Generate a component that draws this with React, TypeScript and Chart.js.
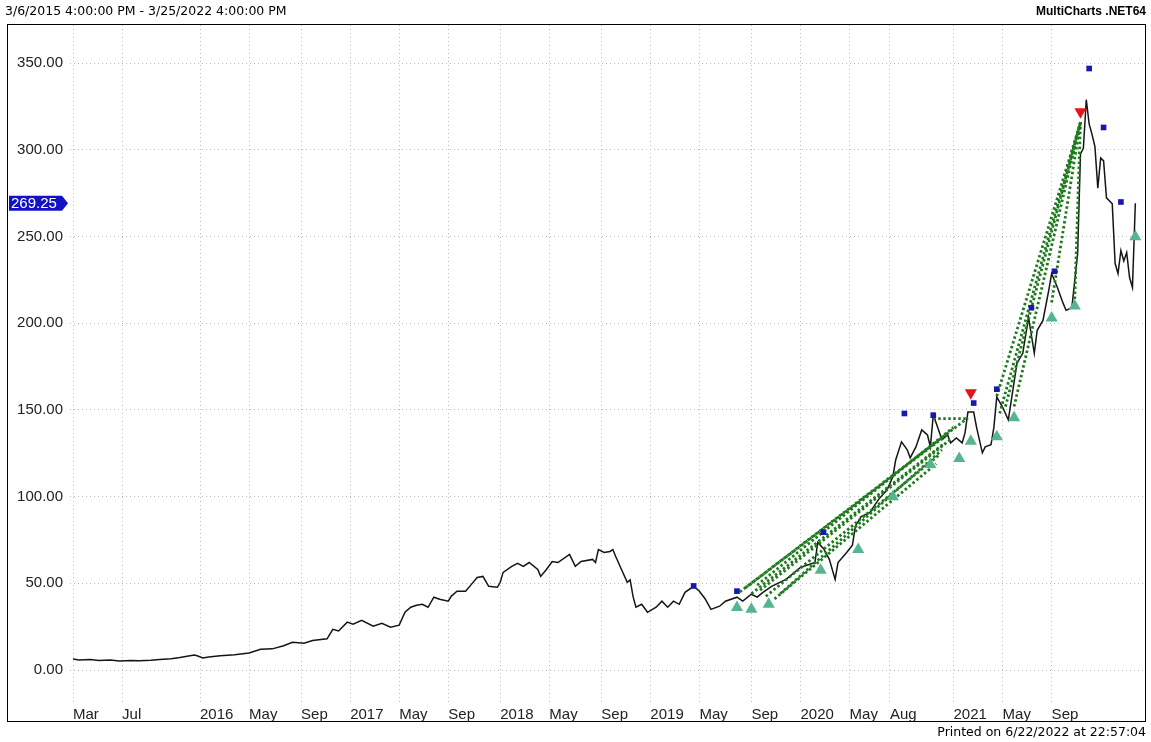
import React, { useEffect, useRef } from "react";
import { Chart, registerables } from "chart.js";

Chart.register(...registerables);

// ---- data (x = weekly bar index counted from 3/6/2015) ----
const priceWeeks = [
  0, 2, 6, 9, 13, 16, 20, 23, 27, 30, 34, 37, 42, 43, 45, 47, 51, 56, 61, 65, 69, 73, 76, 80, 83, 88, 90, 92, 95, 97,
  100, 104, 107, 110, 113, 115, 117, 119, 121, 123, 125, 127, 130, 131, 133, 136, 138, 140, 142, 143, 144, 147, 148,
  149, 152, 154, 156, 158, 161, 162, 164, 166, 168, 172, 174, 176, 180, 181, 182, 184, 186, 187, 188, 190, 192, 193,
  194, 195, 197, 199, 202, 204, 206, 208, 210, 212, 215, 217, 219, 221, 224, 226, 230, 232, 235, 237, 239, 242, 247,
  252, 255, 257, 258, 260, 262, 264, 265, 268, 270, 271, 273, 276, 279, 282, 284, 285, 287, 289, 290, 292, 294, 296,
  297, 298, 299, 301, 303, 304, 306, 308, 309, 310, 312, 313, 315, 316, 318, 319, 320, 322, 324, 327, 329, 331, 333,
  334, 336, 338, 339, 341, 343, 344, 346, 348, 349, 350, 351, 352, 353, 354, 355, 356, 357, 358, 360, 361, 362, 363,
  364, 365, 366, 367, 368,
];
const priceValues = [
  6.3, 5.8, 6.0, 5.5, 5.8, 5.2, 5.5, 5.3, 5.6, 6.0, 6.5, 7.2, 8.6, 8.2, 7.0, 7.5, 8.2, 8.8, 9.8, 12, 12.2, 14, 16,
  15.5, 17, 18, 23.5, 22.5, 27.6, 26.4, 28.7, 25.3, 27, 24.7, 25.9, 33.3, 36.2, 37.4, 37.9, 36.2, 42, 40.8, 39.7,
  42.5, 45.4, 45.4, 49.4, 53.4, 54, 51.1, 48.3, 47.7, 50.6, 56.3, 59.8, 61.5, 59.8, 62, 58, 54, 58, 62.6, 62, 66.7,
  59.8, 62.6, 63.8, 62, 69.5, 67.8, 68.4, 69.5, 65.5, 58, 50.6, 52, 42.5, 36.2, 37.9, 33.3, 36.2, 39.7, 36.2, 39.7,
  37.9, 44.8, 48.3, 45.4, 41, 35, 36.8, 39.7, 42, 39.7, 43.7, 42, 44.8, 48.3, 52.3, 59.2, 60.9, 62, 73.6, 70, 63.8,
  52.3, 62, 67.8, 72, 82.8, 88.5, 90.8, 98.3, 104, 111.5, 121.3, 131.6, 127, 122.4, 128.7, 138.5, 135.6, 128.7, 147,
  142.5, 132.8, 135.6, 131, 133.9, 131, 136.8, 148.8, 148.8, 140, 125.3, 128.7, 130, 140, 157.5, 151.7, 144.3, 177,
  182.7, 203.4, 182.7, 196, 201.7, 219, 228.7, 220.7, 211.5, 207.5, 209, 240, 297.7, 301, 329, 315, 309, 302, 278,
  295.4, 293.7, 272.4, 269, 234.5, 228.7, 242, 236, 240.8, 226.4, 220.7, 269.25,
];

const xTickWeeks = [0, 17, 44, 61, 79, 96, 113, 130, 148, 165, 183, 200, 217, 235, 252, 269, 283, 305, 322, 339];
const xTickLabels = [
  "Mar", "Jul", "2016", "May", "Sep", "2017", "May", "Sep", "2018", "May", "Sep", "2019", "May", "Sep", "2020",
  "May", "Aug", "2021", "May", "Sep",
];
const yTickValues = [0, 50, 100, 150, 200, 250, 300, 350];

const buyWeeks = [230, 235, 241, 259, 272, 284, 297, 307, 311, 320, 326, 339, 347, 368];
const buyValues = [36, 35, 38, 57.5, 69.5, 100, 118.5, 122, 132, 134.5, 145.5, 203, 210, 250];

const sellWeeks = [311, 349];
const sellValues = [160, 322];

const exitWeeks = [215, 230, 260, 288, 298, 312, 320, 332, 340, 352, 357, 363];
const exitValues = [48.5, 45.5, 79.5, 148, 147, 154, 162, 209, 230, 347, 313, 270];

const tradeEntryWeeks = [231, 233, 235, 237, 238, 240, 243, 245, 298, 320, 321, 323, 326, 339, 347];
const tradeEntryValues = [45, 47.5, 44, 49, 46, 42.5, 41, 44, 145, 158, 148, 152, 152, 212, 214];
const tradeExitWeeks = [310, 303, 302, 305, 304, 300, 299, 301, 310, 349, 349, 349, 349, 349, 349];
const tradeExitValues = [145.5, 136, 131, 140, 133, 124, 119, 127, 145, 316, 316, 316, 316, 316, 316];

const lastPrice = 269.25;
const headerLeft = "3/6/2015 4:00:00 PM - 3/25/2022 4:00:00 PM";
const headerRight = "MultiCharts .NET64";
const footerText = "Printed on 6/22/2022 at 22:57:04";

const W = 1151;
const H = 742;

const overlayPlugin = {
  id: "overlay",
  afterDraw(chart: any) {
    const ctx = chart.ctx as CanvasRenderingContext2D;
    ctx.save();
    ctx.strokeStyle = "#000";
    ctx.lineWidth = 1;
    ctx.setLineDash([]);
    ctx.strokeRect(7.5, 24.5, 1138, 697);

    ctx.fillStyle = "#000";
    ctx.textBaseline = "middle";
    ctx.font = "12.5px 'DejaVu Sans'";
    ctx.textAlign = "left";
    ctx.fillText(headerLeft, 5, 12);
    ctx.font = "bold 12px 'Liberation Sans'";
    ctx.textAlign = "right";
    ctx.fillText(headerRight, 1146, 12);
    ctx.font = "12.5px 'DejaVu Sans'";
    ctx.fillText(footerText, 1146, 733);

    const y = chart.scales.y.getPixelForValue(lastPrice);
    ctx.fillStyle = "#1212c4";
    ctx.beginPath();
    ctx.moveTo(9, y - 7.5);
    ctx.lineTo(62, y - 7.5);
    ctx.lineTo(68, y);
    ctx.lineTo(62, y + 7.5);
    ctx.lineTo(9, y + 7.5);
    ctx.closePath();
    ctx.fill();
    ctx.fillStyle = "#fff";
    ctx.font = "15px 'Liberation Sans'";
    ctx.textAlign = "left";
    ctx.fillText(lastPrice.toFixed(2), 11, y + 0.5);
    ctx.restore();
  },
};

export default function App() {
  const ref = useRef<HTMLCanvasElement | null>(null);

  useEffect(() => {
    if (!ref.current) return;
    const pricePoints = priceWeeks.map((w, i) => ({ x: w, y: priceValues[i] }));
    const tradeSets = tradeEntryWeeks.map((w, i) => ({
      data: [
        { x: w, y: tradeEntryValues[i] },
        { x: tradeExitWeeks[i], y: tradeExitValues[i] },
      ],
      borderColor: "#1d7a1d",
      borderWidth: 2.8,
      borderDash: [2.5, 2.5],
      pointRadius: 0,
      order: 2,
    }));
    const markerSet = (xs: number[], ys: number[], style: string, r: number, color: string, rot = 0) => ({
      data: xs.map((w, i) => ({ x: w, y: ys[i] })),
      showLine: false,
      pointStyle: style,
      pointRadius: r,
      pointRotation: rot,
      pointBackgroundColor: color,
      pointBorderColor: color,
      pointBorderWidth: 0,
      borderColor: color,
      order: 1,
    });

    const gridColor = "#bdbdbd";
    const chart = new Chart(ref.current, {
      type: "line",
      data: {
        datasets: [
          {
            data: pricePoints,
            borderColor: "#151515",
            borderWidth: 1.5,
            pointRadius: 0,
            tension: 0,
            order: 3,
          },
          ...tradeSets,
          markerSet(buyWeeks, buyValues, "triangle", 7, "#55b58c"),
          markerSet(sellWeeks, sellValues, "triangle", 7, "#e0161b", 180),
          markerSet(exitWeeks, exitValues, "rect", 4, "#1818b0"),
        ] as any,
      },
      options: {
        responsive: false,
        animation: false,
        devicePixelRatio: 1,
        events: [],
        layout: { padding: { left: 7, top: 25, right: 6, bottom: 20 } },
        plugins: { legend: { display: false }, tooltip: { enabled: false } },
        scales: {
          x: {
            type: "linear",
            min: -1.04,
            max: 371,
            afterBuildTicks: (s: any) => {
              s.ticks = xTickWeeks.map((v) => ({ value: v }));
            },
            afterFit: (s: any) => {
              s.height = 20;
            },
            ticks: {
              autoSkip: false,
              maxRotation: 0,
              minRotation: 0,
              align: "start",
              padding: 4,
              color: "#222",
              font: { family: "'Liberation Sans', Arial", size: 15 },
              callback: (_v: any, i: number) => xTickLabels[i],
            },
            grid: { color: gridColor, lineWidth: 1, drawTicks: false },
            border: { display: false, dash: [1, 3] },
          },
          y: {
            type: "linear",
            min: -18.46,
            max: 372.1,
            afterBuildTicks: (s: any) => {
              s.ticks = yTickValues.map((v) => ({ value: v }));
            },
            afterFit: (s: any) => {
              s.width = 63;
            },
            ticks: {
              padding: 7,
              color: "#222",
              font: { family: "'Liberation Sans', Arial", size: 15 },
              callback: (v: any) => Number(v).toFixed(2),
            },
            grid: { color: gridColor, lineWidth: 1, drawTicks: false },
            border: { display: false, dash: [1, 3] },
          },
        },
      } as any,
      plugins: [overlayPlugin],
    });
    return () => chart.destroy();
  }, []);

  return (
    <div style={{ position: "fixed", left: 0, top: 0, width: W, height: H, background: "#fff" }}>
      <canvas ref={ref} width={W} height={H} style={{ display: "block", width: W, height: H }} />
    </div>
  );
}
